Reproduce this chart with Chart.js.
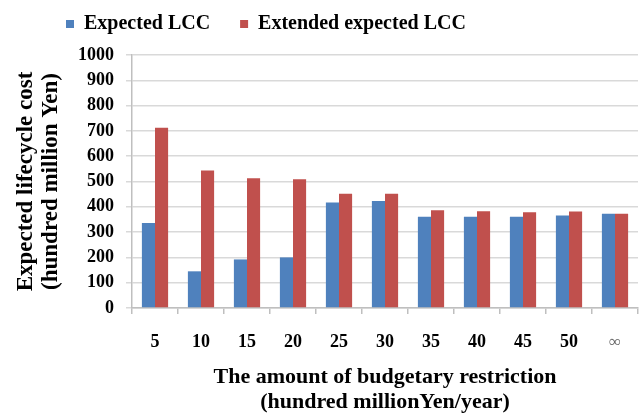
<!DOCTYPE html>
<html>
<head>
<meta charset="utf-8">
<script src="https://cdn.jsdelivr.net/npm/chart.js@4/dist/chart.umd.min.js"></script>
<style>
  html, body { margin: 0; padding: 0; background: #fff; }
  .canvas-container { width: 640px; height: 418px; position: relative; }
</style>
</head>
<body>
<div class="canvas-container"><canvas id="lcc-chart"></canvas></div>
<script>
// budgetary restriction categories (hundred million Yen/year)
const categories = ["5", "10", "15", "20", "25", "30", "35", "40", "45", "50", "\u221e"];
// expected lifecycle cost (hundred million Yen)
const expectedLCC = [336, 145, 192, 200, 417, 423, 361, 361, 361, 366, 373];
const extendedLCC = [712, 543, 513, 509, 452, 452, 386, 382, 378, 381, 373];
const yTicks = [0, 100, 200, 300, 400, 500, 600, 700, 800, 900, 1000];

const serif = "'Liberation Serif', 'Times New Roman', serif";

// legend sits left of centre, wide gap between items, space above the plot
const legendPlacement = {
  id: "legendPlacement",
  beforeInit(chart) {
    const fit = chart.legend.fit;
    chart.legend.fit = function () {
      fit.call(this);
      this.height = 53;
    };
  },
  afterLayout(chart) {
    chart.legend.left = 36;
    chart.legend.top = -16;
  },
};

const ctx = document.getElementById("lcc-chart");
new Chart(ctx, {
  type: "bar",
  data: {
    labels: categories,
    datasets: [
      {
        label: "Expected LCC",
        data: expectedLCC,
        backgroundColor: "#4f81bd",
        borderWidth: 0,
      },
      {
        label: "Extended expected LCC",
        data: extendedLCC,
        backgroundColor: "#c0504d",
        borderWidth: 0,
      },
    ],
  },
  plugins: [legendPlacement],
  options: {
    responsive: true,
    maintainAspectRatio: false,
    animation: false,
    layout: {
      padding: { left: 0, right: 2, top: 2, bottom: 4 },
    },
    datasets: {
      bar: {
        categoryPercentage: 0.57,
        barPercentage: 1.0,
      },
    },
    scales: {
      x: {
        grid: {
          display: true,
          drawOnChartArea: false,
          drawTicks: true,
          tickLength: 6,
          color: "#bfbfbf",
          lineWidth: 1.5,
        },
        border: { color: "#bfbfbf", width: 1.5 },
        ticks: {
          padding: 18,
          color: (c) => (c.index === 10 ? "#666" : "#000"),
          font: (c) =>
            c.index === 10
              ? { family: serif, size: 17, weight: "normal" }
              : { family: serif, size: 18, weight: "bold" },
        },
        title: {
          display: true,
          text: ["The amount of budgetary restriction", "(hundred millionYen/year)"],
          color: "#000",
          font: { family: serif, size: 22, weight: "bold", lineHeight: 1.1 },
          padding: { top: 0, bottom: 0 },
        },
        afterFit(scale) {
          scale.height = 106;
        },
      },
      y: {
        min: 0,
        max: 1000,
        afterBuildTicks(scale) {
          scale.ticks = yTicks.map((v) => ({ value: v }));
        },
        grid: {
          color: "#d9d9d9",
          lineWidth: 1.5,
          drawTicks: true,
          tickLength: 6,
        },
        border: { color: "#bfbfbf", width: 1.5 },
        ticks: {
          padding: 12,
          color: "#000",
          font: { family: serif, size: 18, weight: "bold" },
          callback: (v) => String(v),
        },
        title: {
          display: true,
          text: ["Expected lifecycle cost", "(hundred million Yen)"],
          color: "#000",
          font: { family: serif, size: 23, weight: "bold", lineHeight: 1.08 },
          padding: { top: 14, bottom: 6 },
        },
        afterFit(scale) {
          scale.width = 132;
        },
      },
    },
    plugins: {
      legend: {
        position: "top",
        align: "start",
        labels: {
          color: "#000",
          boxWidth: 8,
          boxHeight: 8,
          padding: 30,
          font: { family: serif, size: 20, weight: "bold" },
        },
      },
      tooltip: { enabled: false },
    },
  },
});
</script>
</body>
</html>
